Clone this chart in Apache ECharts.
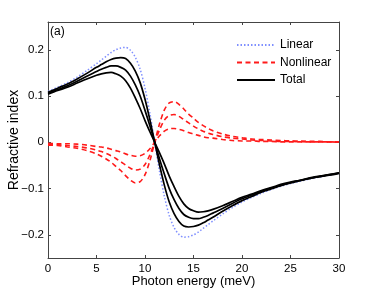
<!DOCTYPE html>
<html>
<head>
<meta charset="utf-8">
<script src="https://cdn.jsdelivr.net/npm/echarts@6/dist/echarts.min.js"></script>
<style>html,body{margin:0;padding:0;background:#fff;}#c{width:374px;height:291px;}</style>
</head>
<body>
<div id="c"></div>
<script>
var energy = [0,1,2,3,4,5,5.5,6,6.5,7,7.5,8,8.5,9,9.5,10,10.5,11,11.5,12,12.5,13,13.5,14,14.5,15,15.5,16,16.5,17,18,19,20,21,22,23,24,25,26,27,28,29,30];
var linear = [0.110,0.119,0.129,0.141,0.155,0.170,0.178,0.186,0.194,0.200,0.204,0.205,0.199,0.184,0.158,0.117,0.063,0,-0.063,-0.117,-0.158,-0.184,-0.199,-0.205,-0.204,-0.200,-0.194,-0.186,-0.178,-0.170,-0.155,-0.141,-0.129,-0.119,-0.110,-0.102,-0.095,-0.089,-0.084,-0.079,-0.075,-0.071,-0.067];
var nonlinear1 = [-0.002,-0.003,-0.003,-0.004,-0.006,-0.009,-0.010,-0.012,-0.015,-0.018,-0.021,-0.025,-0.028,-0.030,-0.029,-0.024,-0.014,0,0.014,0.024,0.029,0.030,0.028,0.025,0.021,0.018,0.015,0.012,0.010,0.009,0.006,0.004,0.003,0.003,0.002,0.002,0.001,0.001,0.001,0.001,0.001,0.001,0.000];
var nonlinear2 = [-0.004,-0.005,-0.007,-0.009,-0.012,-0.017,-0.020,-0.024,-0.029,-0.035,-0.042,-0.049,-0.056,-0.060,-0.058,-0.048,-0.027,0,0.027,0.048,0.058,0.060,0.056,0.049,0.042,0.035,0.029,0.024,0.020,0.017,0.012,0.009,0.007,0.005,0.004,0.003,0.002,0.002,0.002,0.001,0.001,0.001,0.001];
var nonlinear3 = [-0.006,-0.007,-0.010,-0.013,-0.018,-0.025,-0.030,-0.036,-0.043,-0.052,-0.061,-0.072,-0.082,-0.088,-0.085,-0.070,-0.040,0,0.040,0.070,0.085,0.088,0.082,0.072,0.061,0.052,0.043,0.036,0.030,0.025,0.018,0.013,0.010,0.007,0.006,0.005,0.004,0.003,0.002,0.002,0.002,0.001,0.001];
var total1 = [0.108,0.117,0.126,0.137,0.149,0.162,0.168,0.174,0.179,0.182,0.183,0.181,0.171,0.154,0.129,0.093,0.049,0,-0.049,-0.093,-0.129,-0.154,-0.171,-0.181,-0.183,-0.182,-0.179,-0.174,-0.168,-0.162,-0.149,-0.137,-0.126,-0.117,-0.108,-0.101,-0.094,-0.088,-0.083,-0.078,-0.074,-0.071,-0.067];
var total2 = [0.106,0.114,0.122,0.132,0.143,0.153,0.158,0.162,0.165,0.165,0.162,0.156,0.143,0.124,0.100,0.069,0.036,0,-0.036,-0.069,-0.100,-0.124,-0.143,-0.156,-0.162,-0.165,-0.165,-0.162,-0.158,-0.153,-0.143,-0.132,-0.122,-0.114,-0.106,-0.099,-0.093,-0.087,-0.082,-0.078,-0.074,-0.070,-0.066];
var total3 = [0.104,0.112,0.119,0.128,0.137,0.145,0.148,0.150,0.151,0.148,0.143,0.133,0.117,0.096,0.073,0.047,0.023,0,-0.023,-0.047,-0.073,-0.096,-0.117,-0.133,-0.143,-0.148,-0.151,-0.150,-0.148,-0.145,-0.137,-0.128,-0.119,-0.112,-0.104,-0.098,-0.091,-0.086,-0.082,-0.077,-0.073,-0.070,-0.066];
var xTicks = [0,5,10,15,20,25,30];
var yTicks = [-0.2,-0.1,0,0.1,0.2];
var legendNames = ['Linear','Nonlinear','Total'];

function pairs(arr){ return energy.map(function(e,i){ return [e, arr[i]]; }); }
var FONT = 'Liberation Sans, Arial, Helvetica, sans-serif';
var axisColor = '#444';
function fmtY(v){ var s = (Math.round(v*10)/10).toString(); return s.replace('-', '\u2212'); }

var chart = echarts.init(document.getElementById('c'), null, {renderer:'canvas'});
var blue = '#7f8fff', red = '#ff1a1a', black = '#000';
function lineSeries(name, data, color, type, width, z){
  return {name:name, type:'line', data:pairs(data), showSymbol:false, symbol:'none', smooth:0.3,
    lineStyle:{color:color, width:width, type:type}, itemStyle:{color:color}, z:z, animation:false, silent:true};
}
chart.setOption({
  animation:false,
  textStyle:{fontFamily:FONT},
  grid:{left:48, right:35, top:22, bottom:33, containLabel:false, outerBoundsMode:'none'},
  legend:{
    show:true, orient:'vertical', left:231, top:34, itemWidth:38, itemHeight:12, itemGap:5.5,
    textStyle:{fontSize:12, color:'#000', fontFamily:FONT},
    itemStyle:{opacity:0},
    data:legendNames, selectedMode:false
  },
  xAxis:[{
    type:'value', min:0, max:30, interval:5, position:'bottom',
    name:'Photon energy (meV)', nameLocation:'middle', nameGap:17, nameMoveOverlap:false,
    nameTextStyle:{fontSize:13, color:'#000', fontFamily:FONT},
    axisLine:{show:true, onZero:false, lineStyle:{color:axisColor, width:1}},
    axisTick:{show:true, inside:true, length:3, lineStyle:{color:axisColor}},
    axisLabel:{fontSize:11.5, color:'#000', margin:5, fontFamily:FONT},
    splitLine:{show:false}
  },{
    type:'value', min:0, max:30, interval:5, position:'top',
    axisLine:{show:true, onZero:false, lineStyle:{color:axisColor, width:1}},
    axisTick:{show:true, inside:true, length:3, lineStyle:{color:axisColor}},
    axisLabel:{show:false}, splitLine:{show:false}
  }],
  yAxis:[{
    type:'value', min:-0.25, max:0.26, position:'left',
    name:'Refractive index', nameLocation:'middle', nameGap:27, nameMoveOverlap:false,
    nameTextStyle:{fontSize:14, color:'#000', fontFamily:FONT},
    axisLine:{show:true, onZero:false, lineStyle:{color:axisColor, width:1}},
    axisTick:{show:true, inside:true, length:3, customValues:yTicks, lineStyle:{color:axisColor}},
    axisLabel:{fontSize:11.5, color:'#000', margin:4, customValues:yTicks, formatter:fmtY, fontFamily:FONT},
    splitLine:{show:false}
  },{
    type:'value', min:-0.25, max:0.26, position:'right',
    axisLine:{show:true, onZero:false, lineStyle:{color:axisColor, width:1}},
    axisTick:{show:true, inside:true, length:3, customValues:yTicks, lineStyle:{color:axisColor}},
    axisLabel:{show:false}, splitLine:{show:false}
  }],
  graphic:[{type:'text', left:50, top:26, style:{text:'(a)', fontSize:12, fill:'#000', fontFamily:FONT}}],
  series:[
    lineSeries('Linear', linear, blue, [1.5,2], 1.5, 2),
    lineSeries('Nonlinear', nonlinear1, red, [5,3.5], 1.6, 3),
    lineSeries('Nonlinear', nonlinear2, red, [5,3.5], 1.6, 3),
    lineSeries('Nonlinear', nonlinear3, red, [5,3.5], 1.6, 3),
    lineSeries('Total', total1, black, 'solid', 1.7, 4),
    lineSeries('Total', total2, black, 'solid', 1.7, 4),
    lineSeries('Total', total3, black, 'solid', 1.7, 4)
  ]
});
</script>
</body>
</html>
